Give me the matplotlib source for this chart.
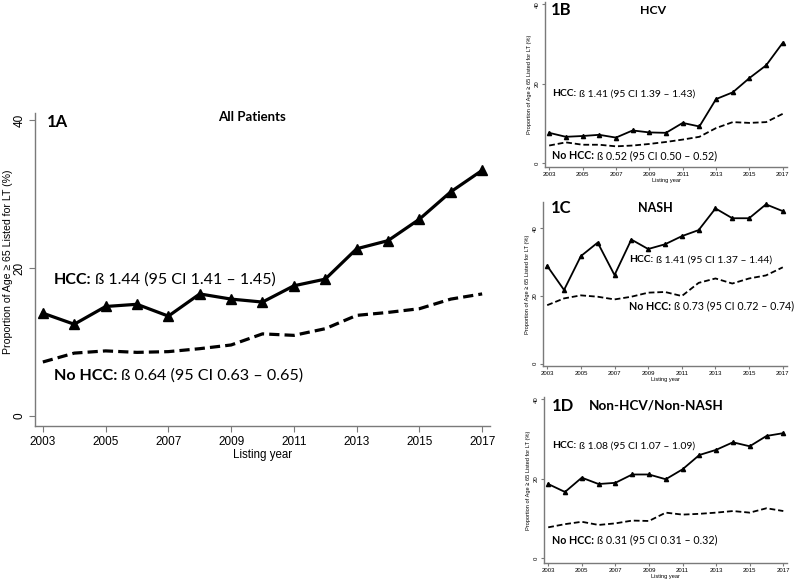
import matplotlib
matplotlib.use("Agg")
import matplotlib.pyplot as plt

years = list(range(2003, 2018))

# Panel 1A: All Patients
a_hcc = [13.9, 12.4, 14.8, 15.1, 13.5, 16.5, 15.8, 15.4, 17.6, 18.5, 22.6, 23.7, 26.6, 30.3, 33.2]
a_nohcc = [7.3, 8.5, 8.8, 8.6, 8.7, 9.1, 9.6, 11.1, 10.9, 11.8, 13.6, 14.0, 14.5, 15.8, 16.5]
# Panel 1B: HCV
b_hcc = [7.6, 6.6, 6.8, 7.1, 6.4, 8.2, 7.7, 7.6, 10.1, 9.2, 16.1, 17.8, 21.4, 24.6, 30.3]
b_nohcc = [4.4, 5.2, 4.6, 4.6, 4.2, 4.4, 4.8, 5.3, 5.9, 6.6, 8.8, 10.3, 10.1, 10.3, 12.4]
# Panel 1C: NASH
c_hcc = [28.9, 21.8, 31.8, 35.8, 26.2, 36.7, 33.9, 35.3, 37.7, 39.5, 45.9, 43.0, 43.0, 47.1, 45.1]
c_nohcc = [17.3, 19.3, 20.2, 19.8, 19.0, 19.8, 21.0, 21.2, 20.0, 23.9, 25.2, 23.7, 25.2, 26.1, 28.5]
# Panel 1D: Non-HCV/Non-NASH
d_hcc = [18.7, 16.7, 20.3, 18.7, 19.0, 21.1, 21.1, 19.9, 22.4, 26.0, 27.3, 29.2, 28.2, 30.8, 31.5]
d_nohcc = [7.8, 8.6, 9.2, 8.4, 8.8, 9.5, 9.4, 11.5, 11.0, 11.2, 11.5, 11.9, 11.5, 12.6, 11.9]

xticks = [2003, 2005, 2007, 2009, 2011, 2013, 2015, 2017]
yticks = [0, 20, 40]
ylabel = "Proportion of Age \u2265 65 Listed for LT (%)"
xlabel = "Listing year"

W, H = 800, 582
fig = plt.figure(figsize=(W / 100, H / 100), dpi=100)

ANN = ["Lato", "DejaVu Sans"]
TICKF = ["Liberation Sans", "DejaVu Sans"]
SP = "#7a7a7a"


def add_ax(l, r, t, b):
    return fig.add_axes([l / W, 1 - b / H, (r - l) / W, (b - t) / H])


def style(ax, ylim, tfs, lfs, tl, pad, show_ylabel=True):
    ax.set_xlim(2002.75, 2017.25)
    ax.set_ylim(*ylim)
    ax.set_xticks(xticks)
    ax.set_yticks(yticks)
    for s in ["top", "right"]:
        ax.spines[s].set_visible(False)
    for s in ["left", "bottom"]:
        ax.spines[s].set_color(SP)
        ax.spines[s].set_linewidth(1.0)
    ax.tick_params(color=SP, length=tl, width=0.8, pad=pad)
    for lab in ax.get_xticklabels():
        lab.set_fontfamily(TICKF)
        lab.set_fontsize(tfs)
    for lab in ax.get_yticklabels():
        lab.set_fontfamily(TICKF)
        lab.set_fontsize(tfs)
        lab.set_rotation(90)
        lab.set_va("center")
    ax.set_xlabel(xlabel, fontsize=lfs, family=TICKF, labelpad=1)
    if show_ylabel:
        ax.set_ylabel(ylabel, fontsize=lfs, family=TICKF, labelpad=2)
    ax.patch.set_alpha(0)


def ftext(x, y, s, size, bold=False, ha="left"):
    fig.text(x / W, 1 - y / H, s, fontsize=size, family=ANN,
             fontweight="bold" if bold else "normal", ha=ha, va="center")


def stat(x, y, lead, rest, size):
    t = fig.text(x / W, 1 - y / H, lead, fontsize=size, family=ANN,
                 fontweight="bold", ha="left", va="center")
    fig.canvas.draw()
    bb = t.get_window_extent()
    fig.text(bb.x1 / W + 0.004, 1 - y / H, rest, fontsize=size, family=ANN,
             ha="left", va="center")


# ---- 1A ----
ax = add_ax(35, 490, 113, 426)
ax.plot(years, a_hcc, color="black", lw=2.3, marker="^", ms=6.5)
ax.plot(years, a_nohcc, color="black", lw=2.3, ls=(0, (3.2, 1.6)))
style(ax, (-1.35, 40.95), 8.5, 8.3, 4, 3, show_ylabel=False)
fig.text(8 / W, 1 - 262 / H, ylabel, rotation=90, fontsize=7.6, family=TICKF,
         ha="center", va="center")
ftext(47, 122, "1A", 12, bold=True)
ftext(252, 117, "All Patients", 9.5, bold=True, ha="center")
stat(54, 280, "HCC:", "\u00df 1.44 (95 CI 1.41 \u2013 1.45)", 11.5)
stat(54, 376, "No HCC:", "\u00df 0.64 (95 CI 0.63 \u2013 0.65)", 11.6)

# ---- 1B ----
ax = add_ax(545, 787, 2, 166.7)
ax.plot(years, b_hcc, color="black", lw=1.3, marker="^", ms=3)
ax.plot(years, b_nohcc, color="black", lw=1.3, ls=(0, (3.2, 1.6)))
style(ax, (-0.93, 40.55), 4.3, 4.1, 2, 1.5)
ftext(551, 10, "1B", 12, bold=True)
ftext(640, 10, "HCV", 8.8, bold=True)
stat(552, 94, "HCC:", "\u00df 1.41 (95 CI 1.39 \u2013 1.43)", 7.5)
stat(552, 156, "No HCC:", "\u00df 0.52 (95 CI 0.50 \u2013 0.52)", 7.7)

# ---- 1C ----
ax = add_ax(543, 787, 202, 366)
ax.plot(years, c_hcc, color="black", lw=1.3, marker="^", ms=3)
ax.plot(years, c_nohcc, color="black", lw=1.3, ls=(0, (3.2, 1.6)))
style(ax, (-0.68, 47.8), 4.3, 4.1, 2, 1.5)
ftext(551, 208, "1C", 12, bold=True)
ftext(638, 208, "NASH", 9, bold=True)
stat(629, 260, "HCC:", "\u00df 1.41 (95 CI 1.37 \u2013 1.44)", 7.5)
stat(629, 306, "No HCC:", "\u00df 0.73 (95 CI 0.72 \u2013 0.74)", 7.7)

# ---- 1D ----
ax = add_ax(544, 787.5, 397, 562.7)
ax.plot(years, d_hcc, color="black", lw=1.3, marker="^", ms=3)
ax.plot(years, d_nohcc, color="black", lw=1.3, ls=(0, (3.2, 1.6)))
style(ax, (-1.1, 40.6), 4.3, 4.1, 2, 1.5)
ftext(552, 406, "1D", 12, bold=True)
ftext(589, 406, "Non-HCV/Non-NASH", 9.7, bold=True)
stat(552, 446, "HCC:", "\u00df 1.08 (95 CI 1.07 \u2013 1.09)", 7.5)
stat(552, 540, "No HCC:", "\u00df 0.31 (95 CI 0.31 \u2013 0.32)", 7.7)

fig.savefig("out.png", dpi=100)
